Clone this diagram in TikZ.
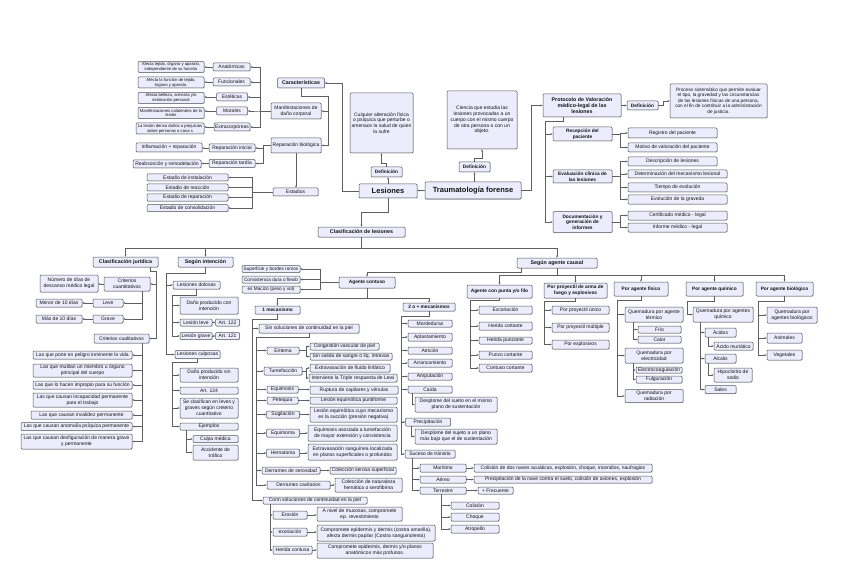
\documentclass[tikz,border=0pt]{standalone}
\usepackage{fontspec}
\setmainfont{Liberation Sans}
\usetikzlibrary{arrows.meta,shadows}
\definecolor{fillc}{RGB}{236,236,252}
\definecolor{bordc}{RGB}{85,85,95}
\definecolor{linec}{RGB}{95,95,95}
\definecolor{txtc}{RGB}{20,20,20}
\newcommand\myfn{\fontsize{5}{5.8}\selectfont}
\newcommand\myfm{\fontsize{4.7}{5.6}\selectfont}
\newcommand\myft{\fontsize{4.2}{4.9}\selectfont}
\newcommand\myfb{\fontsize{4.8}{5.6}\selectfont\bfseries}
\newcommand\myfh{\fontsize{5.3}{6.2}\selectfont\bfseries}
\newcommand\myfg{\fontsize{7.5}{8.5}\selectfont\bfseries}
\begin{document}
\begin{tikzpicture}[x=1pt,y=-1pt,
  bx/.style={draw=bordc,fill=fillc,rounded corners=1pt,line width=0.5pt,inner sep=0.5pt,align=center,text=txtc,font=\myfn,drop shadow={shadow xshift=0.5pt,shadow yshift=-0.5pt,fill=black!35}},
  wh/.style 2 args={minimum width=#1pt,minimum height=#2pt},
  ft/.style={font=\myft},
  fm/.style={font=\myfm},
  fb/.style={font=\myfb},
  fh/.style={font=\myfh},
  fg/.style={font=\myfg},
  arr/.style={draw=linec,line width=0.5pt,-{Stealth[length=2.3pt,width=1.9pt]}},
]
\fill[white] (0,0) rectangle (848,580);
\useasboundingbox (0,0) rectangle (848,580);

% ---------- top left ----------
\node[bx,ft,wh={66}{11}] (af1) at (171,67) {Afecta tejido, órgano y aparato,\\independiente de su función};
\node[bx,ft,wh={66}{11}] (af2) at (171,82.5) {Afecta la función de tejido,\\órgano y aparato.};
\node[bx,ft,wh={66}{11}] (af3) at (171,98) {Afecta belleza, armonía y/o\\estimación personal};
\node[bx,ft,wh={66}{11}] (af4) at (171,113) {Manifestaciones colaterales de la\\lesión};
\node[bx,ft,wh={68}{11}] (af5) at (170,128.5) {La lesión deriva daños o prejuicios\\sobre personas o cosa s};
\node[bx,wh={37}{8}] (anat) at (231.5,67) {Anatómicas};
\node[bx,wh={37}{8}] (func) at (231.5,82) {Funcionales};
\node[bx,wh={31}{8}] (este) at (232,97) {Estéticas};
\node[bx,wh={31}{8}] (mora) at (232,111) {Morales};
\node[bx,wh={36}{8}] (extra) at (232,127) {Extracorpóreas};
\node[bx,wh={46}{8}] (rini) at (232,148) {Reparación inicial};
\node[bx,wh={46}{8}] (rtar) at (232,163.5) {Reparación tardía};
\node[bx,wh={66}{9}] (infl) at (169,147.5) {Inflamación + reparación};
\node[bx,wh={68}{8}] (reab) at (167,164) {Reabsorción y remodelación};
\node[bx,wh={81}{7}] (est1) at (187.5,177.5) {Estadio de instalación};
\node[bx,wh={81}{7}] (est2) at (187.5,187.5) {Estadio de reacción};
\node[bx,wh={81}{7}] (est3) at (187.5,197.5) {Estadio de reparación};
\node[bx,wh={81}{7}] (est4) at (187.5,208) {Estadio de consolidación};
\node[bx,fh,wh={47}{10}] (caract) at (301,83) {Características};
\node[bx,wh={50}{16}] (manif) at (296,111) {Manifestaciones de\\daño corporal};
\node[bx,wh={50}{15}] (repbio) at (296,145.5) {Reparación biológica};
\node[bx,wh={45}{8}] (estad) at (295.5,192) {Estadios};

% ---------- centre top ----------
\node[bx,wh={63}{60}] (deflesT) at (381.5,123) {Cuiquier alteración física\\o psíquica que perturbe o\\amenace la salud de quien\\la sufre};
\node[bx,fb,wh={31}{10}] (deflesD) at (386.5,172) {Definición};
\node[bx,fg,wh={58}{14}] (lesiones) at (388,191) {Lesiones};
\node[bx,wh={70}{58}] (deftrT) at (482,120) {Ciencia que estudia las\\lesiones provocadas a un\\cuerpo con el mismo cuerpo\\de otra persona o con un\\objeto.};
\node[bx,fb,wh={31}{10}] (deftrD) at (474.5,167) {Definición};
\node[bx,fg,wh={96}{17}] (trauma) at (473,190.5) {Traumatología forense};
\node[bx,fh,wh={78}{23}] (proto) at (582,105.5) {Protocolo de Valoración\\médico-legal de las\\lesiones};
\node[bx,fb,wh={31}{9}] (protoD) at (642.5,105.5) {Definición};
\node[bx,fm,wh={97}{34}] (protoT) at (718.5,101) {Proceso sistemático que permite evaluar\\el tipo, la gravedad y las circunstancias\\de las lesiones físicas de una persona,\\con el fin de contribuir a la administración\\de justicia.};
\node[bx,fb,wh={59}{14}] (recep) at (582.5,134) {Recepción del\\paciente};
\node[bx,fb,wh={59}{13}] (evalc) at (582.5,176.5) {Evaluación clínica de\\las lesiones};
\node[bx,fb,wh={59}{21}] (docum) at (582.5,222) {Documentación y\\generación de\\informes};
\node[bx,wh={89}{10}] (reg) at (672.5,133) {Registro del paciente};
\node[bx,wh={89}{9}] (mot) at (672.5,147.5) {Motivo de valoración del paciente};
\node[bx,wh={89}{9}] (desc) at (672.5,161.5) {Descripción de lesiones};
\node[bx,wh={99}{8}] (det) at (677.5,174) {Determinación del mecanismo lesional};
\node[bx,wh={99}{9}] (tiem) at (677.5,187.5) {Tiempo de evolución};
\node[bx,wh={99}{9}] (evol) at (677.5,199.5) {Evolución de la graveda};
\node[bx,wh={99}{9}] (cert) at (677.5,215.5) {Certificado médico - legal};
\node[bx,wh={99}{9}] (inf) at (677.5,227.5) {Informe médico - legal};

% ---------- classification heads ----------
\node[bx,fh,wh={87}{10}] (clasif) at (361.5,232) {Clasificación de lesiones};
\node[bx,fh,wh={65}{10}] (cjur) at (125.5,262) {Clasificación jurídica};
\node[bx,fh,wh={55}{10}] (sint) at (205.5,262) {Según intención};
\node[bx,fh,wh={80}{10}] (sac) at (557,263) {Según agente causal};

% ---------- jurídica ----------
\node[bx,wh={46}{14}] (ccuant) at (127,284) {Criterios\\cuantitativos};
\node[bx,wh={58}{17}] (ndias) at (69,283.5) {Número de días de\\descanso médico legal};
\node[bx,wh={30}{8}] (leve) at (108,303) {Leve};
\node[bx,wh={46}{8}] (menor) at (59,303) {Menor de 10 días};
\node[bx,wh={30}{8}] (grave) at (108,319) {Grave};
\node[bx,wh={46}{8}] (mas) at (59,319) {Más de 10 días};
\node[bx,wh={55}{9}] (ccual) at (121.5,338.5) {Criterios cualitativos};
\node[bx,wh={99}{8}] (lq1) at (82.5,355) {Las que pone en peligro inminente la vida};
\node[bx,wh={99}{13}] (lq2) at (82.5,370.5) {Las que mutilan un miembro u órgano\\principal del cuerpo};
\node[bx,wh={99}{8}] (lq3) at (82.5,385) {Las que lo hacen impropio para su función};
\node[bx,wh={99}{14}] (lq4) at (82.5,400) {Las que causan incapacidad permanente\\para el trabajo};
\node[bx,wh={101}{8}] (lq5) at (81.5,415) {Las que causan invalidez permanente};
\node[bx,wh={111}{8}] (lq6) at (76.5,426.5) {Las que causan anomalía psíquica permanente};
\node[bx,wh={111}{15}] (lq7) at (76.5,441.5) {Las que causan desfiguración de manera grave\\y permanente};

% ---------- intención ----------
\node[bx,wh={47}{8}] (dolo) at (196.5,285) {Lesiones dolosas};
\node[bx,wh={58}{17}] (dcon) at (209,305.5) {Daño producido con\\intención};
\node[bx,wh={32}{7}] (lleve) at (196,322.5) {Lesión leve};
\node[bx,wh={24}{7}] (a122) at (227.5,322.5) {Art. 122};
\node[bx,wh={32}{7}] (lgrave) at (196,336) {Lesión grave};
\node[bx,wh={24}{7}] (a121) at (227.5,336) {Art. 121};
\node[bx,wh={45}{8}] (culp) at (197.5,354.5) {Lesiones culposas};
\node[bx,wh={58}{14}] (dsin) at (209,375) {Daño producido sin\\intención};
\node[bx,wh={58}{7}] (a124) at (209,390.5) {Art. 124};
\node[bx,wh={58}{20}] (secl) at (209,408) {Se clasifican en leves y\\graves según creterio\\cuantitativo};
\node[bx,wh={58}{7}] (ejem) at (209,426.5) {Ejemplos};
\node[bx,wh={45}{7}] (culpa) at (215.5,439) {Culpa médica};
\node[bx,wh={45}{15}] (acci) at (215.5,452.5) {Accidente de\\tráfico};

% ---------- agente contuso ----------
\node[bx,fm,wh={58}{7}] (sup) at (271,269) {Superficie y bordes romos};
\node[bx,fm,wh={58}{7}] (cons) at (271,279.5) {Consistencia dura o flexib};
\node[bx,fm,wh={58}{7}] (maci) at (271,289.5) {es Macizo (peso y vol)};
\node[bx,fb,wh={56}{11}] (acont) at (367,282.5) {Agente contuso};
\node[bx,fb,wh={45}{8}] (mec1) at (277.5,310) {1 mecanismo};
\node[bx,fb,wh={52}{8}] (mec2) at (429,307) {2 o + mecanismos};
\node[bx,wh={100}{9}] (sinsol) at (309,328.5) {Sin soluciones de continuidad en la piel};
\node[bx,wh={32}{7}] (eri) at (283,350.5) {Eritema};
\node[bx,wh={69}{7}] (cong) at (344.5,346.5) {Congestión vascular de piel};
\node[bx,wh={82}{7}] (sinsal) at (351,356.5) {Sin salida de sangre o liq. intravas};
\node[bx,wh={38}{8}] (tume) at (283,371) {Tumefacción};
\node[bx,wh={80}{8}] (extr) at (350,368) {Extravasación de fluido linfático};
\node[bx,wh={88}{8}] (inter) at (353,378) {Interviene la Triple respuesta de Lewi};
\node[bx,wh={31}{7}] (equi) at (282.5,389.5) {Equimosis};
\node[bx,wh={88}{8}] (rupt) at (354,390) {Ruptura de capilares y vénulas};
\node[bx,wh={31}{7}] (pete) at (282.5,400.5) {Petequia};
\node[bx,wh={87}{7}] (lpun) at (353.5,400.5) {Lesión equimótica puntiforme};
\node[bx,wh={33}{7}] (sugi) at (283,414.5) {Sugilación};
\node[bx,wh={87}{15}] (lsuc) at (353.5,414.5) {Lesión equimótica cuyo mecanismo\\es la succión (presión negativa)};
\node[bx,wh={33}{8}] (equim) at (283,433) {Equimoma};
\node[bx,wh={89}{16}] (eqas) at (352.5,433) {Equimosis asociada a tumefacción\\de mayor extensión y consistencia};
\node[bx,wh={33}{8}] (hema) at (283,453) {Hematoma};
\node[bx,wh={89}{16}] (extrs) at (352.5,452) {Extravasación sanguínea localizada\\en planos superficiales o profundos};
\node[bx,wh={58}{7}] (ders) at (291,470.5) {Derrames de serosidad};
\node[bx,wh={66}{7}] (cols) at (363,470.5) {Colección serosa superficial};
\node[bx,wh={63}{8}] (derc) at (298.5,485) {Derrames cavitarios};
\node[bx,wh={67}{14}] (coln) at (368.5,485) {Colección de naturaleza\\hemática o serofibrina};
\node[bx,wh={104}{7}] (connsol) at (315,500.5) {Conn soluciones de continuidad en la piel};
\node[bx,wh={34}{8}] (eros) at (290,515) {Erosión};
\node[bx,wh={85}{14}] (anivel) at (359.5,514) {A nivel de mucosas, compromete\\ep. revestimiento};
\node[bx,wh={34}{8}] (exor) at (290,532) {exoriación};
\node[bx,wh={118}{16}] (compr1) at (376,533) {Compromete epidermis y dermis (costra amarilla),\\afecta dermis papilar (Costra sanguinolenta)};
\node[bx,wh={39}{8}] (hcont) at (292.5,550) {Herida contusa};
\node[bx,wh={116}{15}] (compr2) at (375,550.5) {Compromete epidermis, dermis y/o planos\\anatómicos más profunos.};

% ---------- 2 o + mecanismos ----------
\node[bx,wh={44}{7}] (mord) at (430,323.5) {Mordeduras};
\node[bx,wh={44}{8}] (apla) at (430,337) {Aplastamiento};
\node[bx,wh={44}{7}] (atri) at (430,350.5) {Atrición};
\node[bx,wh={44}{8}] (arra) at (430,363) {Arrancamiento};
\node[bx,wh={44}{7}] (ampu) at (430,376.5) {Amputación};
\node[bx,wh={44}{7}] (caid) at (430,389.5) {Caída};
\node[bx,wh={82}{15}] (desp1) at (456,404.5) {Desplome del sueto en el mismo\\plano de sustentación};
\node[bx,wh={45}{8}] (prec) at (428,422) {Precipitación};
\node[bx,wh={82}{15}] (desp2) at (456,436.5) {Desplome del sujeto a un plano\\más bajo que el de sustentación};
\node[bx,wh={50}{8}] (suce) at (430,454) {Suceso de tránsito};
\node[bx,wh={46}{8}] (mari) at (443,468) {Marítimo};
\node[bx,wh={46}{7}] (aereo) at (443,479.5) {Aéreo};
\node[bx,wh={46}{7}] (terr) at (443,490.5) {Terrestre};
\node[bx,wh={178}{8}] (colis) at (563,468) {Colisión de dos naves acuáticas, explosión, choque, incendios, naufragios};
\node[bx,wh={178}{7}] (preci2) at (563,479.5) {Precipitación de la nave contra el suelo, colisión de aviones, explosión};
\node[bx,wh={35}{7}] (frec) at (495.5,490.5) {+ Frecuente};
\node[bx,wh={48}{7}] (coli) at (475,505.5) {Colisión};
\node[bx,wh={48}{8}] (choq) at (475,517) {Choque};
\node[bx,wh={48}{8}] (atro) at (475,529) {Atropello};

% ---------- agentes ----------
\node[bx,fb,wh={65}{13}] (apunta) at (499.5,291.5) {Agente con punta y/o filo};
\node[bx,fb,wh={63}{15}] (pproy) at (575.5,290.5) {Por proyectil de arma de\\fuego y explosivos};
\node[bx,fb,wh={54}{14}] (pfis) at (641,289) {Por agente físico};
\node[bx,fb,wh={57}{14}] (pquim) at (714.5,289) {Por agente químico};
\node[bx,fb,wh={57}{14}] (pbio) at (784.5,289) {Por agente biológico};
\node[bx,wh={53}{8}] (exco) at (505.5,310) {Excoriación};
\node[bx,wh={53}{8}] (hcor) at (505.5,326) {Herida cortante};
\node[bx,wh={53}{7}] (hpun) at (505.5,340.5) {Herida punzante};
\node[bx,wh={53}{8}] (pcor) at (505.5,355) {Punzo cortante};
\node[bx,wh={53}{8}] (ccor) at (505.5,368) {Contuso cortante};
\node[bx,wh={57}{8}] (punico) at (580.5,310) {Por proyectil único};
\node[bx,wh={57}{9}] (pmult) at (580.5,327.5) {Por proyectil múltiple};
\node[bx,wh={57}{9}] (pexpl) at (580.5,344.5) {Por explosivos};
\node[bx,wh={58}{15}] (qterm) at (654,314.5) {Quemadura por agente\\térmico};
\node[bx,wh={43}{7}] (frio) at (659.5,329.5) {Frío};
\node[bx,wh={43}{7}] (calor) at (659.5,339.5) {Calor};
\node[bx,wh={58}{15}] (qelec) at (654,355.5) {Quemadura por\\electricidad};
\node[bx,wh={46}{6}] (elec) at (659,370) {Electrocoagulación};
\node[bx,wh={46}{7}] (fulg) at (659,379.5) {Fulguración};
\node[bx,wh={58}{13}] (qrad) at (654,396) {Quemadura por\\radiación};
\node[bx,wh={60}{15}] (qquim) at (723,314.5) {Quemadura por agentes\\químico};
\node[bx,wh={31}{9}] (acid) at (720.5,332.5) {Ácidos};
\node[bx,wh={39}{8}] (amur) at (733.5,346) {Ácido muriático};
\node[bx,wh={31}{9}] (alca) at (720.5,358.5) {Alcalis};
\node[bx,wh={38}{14}] (hipo) at (733,375) {Hipoclorito de\\sodio};
\node[bx,wh={31}{8}] (sales) at (720.5,389.5) {Sales};
\node[bx,wh={50}{16}] (qbio) at (792,315) {Quemadura por\\agentes biológicos};
\node[bx,wh={35}{10}] (anim) at (784.5,338) {Animales};
\node[bx,wh={35}{10}] (vege) at (784.5,355) {Vegetales};

% ================= connectors =================
\coordinate (cb) at (328,96);
\coordinate (pb) at (545,121.5);
\coordinate (lb) at (361.5,212);
\coordinate (m1b) at (252,319);
\coordinate (sb) at (256,337.5);
\coordinate (m2b) at (401,316.5);
\coordinate (cjb) at (156.5,271.5);
\coordinate (sib) at (166.5,273);
\coordinate (dob) at (172.5,295);
\coordinate (cub) at (172.5,362);
\coordinate (apb) at (470,300);
\coordinate (ppb) at (544.5,301.5);
\coordinate (pfb) at (617,300);
\coordinate (pqb) at (687,301);
\coordinate (pbb) at (758,301);

\draw[arr] (lesiones.west) -- ++(-17,0) |- (caract.east);
\foreach \nd in {manif,repbio} \draw[arr] (caract.south) |- (cb) |- (\nd.east);
\foreach \nd in {anat,func,este,mora,extra} \draw[arr] (manif.west) -- ++(-11,0) |- (\nd.east);
\foreach \p/\q in {anat/af1,func/af2,este/af3,mora/af4,extra/af5,rini/infl,rtar/reab,leve/menor,grave/mas,ccuant/ndias} \draw[arr] (\p.west) -- (\p.west -| \q.east);
\foreach \nd in {rini,rtar} \draw[arr] (repbio.west) -- ++(-8,0) |- (\nd.east);
\draw[arr] (repbio.south) -- (repbio.south |- estad.north);
\foreach \nd in {est1,est2,est3,est4} \draw[arr] (estad.west) -- ++(-21,0) |- (\nd.east);

\draw[arr] (lesiones.north) -- (lesiones.north |- deflesD.south);
\draw[arr] (deflesD.north) -- ++(0,-3) -| (deflesT.south);
\draw[arr] (trauma.west) -- (trauma.west -| lesiones.east);
\draw[arr] (deftrD.south |- trauma.north) -- (deftrD.south);
\draw[arr] (deftrD.north) -- ++(0,-3) -| (deftrT.south);
\draw[arr] (trauma.east) -- ++(10,0) |- (proto.west);
\draw[arr] (proto.east) -- (protoD.west);
\draw[arr] (protoD.east) -- ++(5,0) |- (protoT.west);
\foreach \nd in {recep,evalc,docum} \draw[arr] ([xshift=-19pt]proto.south) |- (pb) |- (\nd.west);
\foreach \nd in {reg,mot} \draw[arr] (recep.east) -- ++(8,0) |- (\nd.west);
\foreach \nd in {desc,det,tiem,evol} \draw[arr] (evalc.east) -- ++(8,0) |- (\nd.west);
\foreach \nd in {cert,inf} \draw[arr] (docum.east) -- ++(8,0) |- (\nd.west);

\draw[arr] (lesiones.south) |- (lb) -- (clasif.north);
\foreach \nd in {cjur,sint,sac} \draw[arr] (clasif.south) -- ++(0,10.5) -| (\nd.north);
\foreach \nd in {apunta,pproy,pfis,pquim,pbio} \draw[arr] (sac.south) -- ++(0,7) -| (\nd.north);
\draw[arr] ([xshift=4pt]sac.south west) -- ++(0,4) -| (acont.north);

\foreach \nd in {sup,cons,maci} \draw[arr] (acont.west) -- ++(-19,0) |- (\nd.east);
\foreach \nd in {mec1,mec2} \draw[arr] (acont.south) -- ++(0,10) -| (\nd.north);
\foreach \nd in {sinsol,connsol} \draw[arr] (mec1.south) |- (m1b) |- (\nd.west);
\foreach \nd in {eri,tume,equi,pete,sugi,equim,hema,ders,derc} \draw[arr] (sinsol.south) |- (sb) |- (\nd.west);
\foreach \nd in {cong,sinsal} \draw[arr] (eri.east) -- ++(7,0) |- (\nd.west);
\foreach \nd in {extr,inter} \draw[arr] (tume.east) -- ++(4,0) |- (\nd.west);
\foreach \p/\q in {equi/rupt,pete/lpun,sugi/lsuc,equim/eqas,hema/extrs,ders/cols,derc/coln,eros/anivel,exor/compr1,hcont/compr2,mari/colis,aereo/preci2,terr/frec,lleve/a122,lgrave/a121} \draw[arr] (\p.east) -- (\p.east -| \q.west);
\foreach \nd in {eros,exor,hcont} \draw[arr] ([xshift=7pt]connsol.south west) |- (\nd.west);
\foreach \nd in {mord,apla,atri,arra,ampu,caid,prec,suce} \draw[arr] (mec2.south) |- (m2b) |- (\nd.west);
\draw[arr] ([xshift=4pt]caid.south west) |- (desp1.west);
\draw[arr] ([xshift=6pt]prec.south west) |- (desp2.west);
\foreach \nd in {mari,aereo,terr} \draw[arr] ([xshift=7pt]suce.south west) |- (\nd.west);
\foreach \nd in {coli,choq,atro} \draw[arr] ([xshift=-2pt]terr.south) |- (\nd.west);

\foreach \nd in {ccuant,ccual} \draw[arr] ([xshift=-8pt]cjur.south east) |- (cjb) |- (\nd.east);
\foreach \nd in {leve,grave} \draw[arr] ([xshift=-8pt]ccuant.south east) |- (\nd.east);
\foreach \nd in {lq1,lq2,lq3,lq4,lq5,lq6,lq7} \draw[arr] ([xshift=-7pt]ccual.south east) |- (\nd.east);
\foreach \nd in {dolo,culp} \draw[arr] (sint.south) |- (sib) |- (\nd.west);
\foreach \nd in {dcon,lleve,lgrave} \draw[arr] (dolo.south) |- (dob) |- (\nd.west);
\foreach \nd in {dsin,a124,secl,ejem} \draw[arr] (culp.south) |- (cub) |- (\nd.west);
\foreach \nd in {culpa,acci} \draw[arr] ([xshift=6pt]ejem.south west) |- (\nd.west);

\foreach \nd in {exco,hcor,hpun,pcor,ccor} \draw[arr] (apunta.south) |- (apb) |- (\nd.west);
\foreach \nd in {punico,pmult,pexpl} \draw[arr] (pproy.south) |- (ppb) |- (\nd.west);
\foreach \nd in {qterm,qelec,qrad} \draw[arr] (pfis.south) |- (pfb) |- (\nd.west);
\foreach \nd in {frio,calor} \draw[arr] ([xshift=8pt]qterm.south west) |- (\nd.west);
\foreach \nd in {elec,fulg} \draw[arr] ([xshift=8pt]qelec.south west) |- (\nd.west);
\draw[arr] (pquim.south) |- (pqb) |- (qquim.west);
\foreach \nd in {acid,alca,sales} \draw[arr] ([xshift=7pt]qquim.south west) |- (\nd.west);
\draw[arr] ([xshift=3.5pt]acid.south west) |- (amur.west);
\draw[arr] ([xshift=3.5pt]alca.south west) |- (hipo.west);
\foreach \nd in {qbio,anim,vege} \draw[arr] (pbio.south) |- (pbb) |- (\nd.west);
\end{tikzpicture}
\end{document}
